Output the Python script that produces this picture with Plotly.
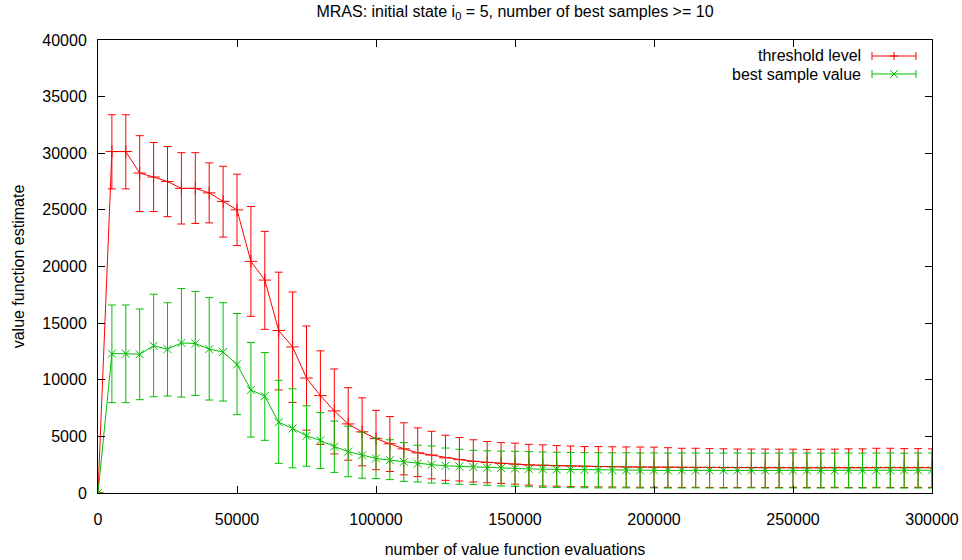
import plotly.graph_objects as go

# ---------------- data ----------------
evaluations = [0, 5000, 10000, 15000, 20000, 25000, 30000, 35000, 40000, 45000, 50000,
               55000, 60000, 65000, 70000, 75000, 80000, 85000, 90000, 95000, 100000,
               105000, 110000, 115000, 120000, 125000, 130000, 135000, 140000, 145000, 150000,
               155000, 160000, 165000, 170000, 175000, 180000, 185000, 190000, 195000, 200000,
               205000, 210000, 215000, 220000, 225000, 230000, 235000, 240000, 245000, 250000,
               255000, 260000, 265000, 270000, 275000, 280000, 285000, 290000, 295000, 300000]

threshold_mean = [0, 30150, 30150, 28250, 27900, 27500, 26900, 26900, 26500, 25750, 25000,
                  20450, 18800, 14350, 12900, 10150, 8600, 7250, 6100, 5400, 4800,
                  4350, 3900, 3550, 3350, 3100, 2950, 2800, 2700, 2620, 2550,
                  2480, 2450, 2400, 2380, 2350, 2330, 2320, 2300, 2290, 2280,
                  2270, 2260, 2250, 2250, 2240, 2240, 2230, 2230, 2230, 2230,
                  2230, 2230, 2240, 2230, 2240, 2240, 2240, 2240, 2240, 2240]
threshold_high = [0, 33400, 33400, 31550, 30950, 30600, 30050, 30050, 29150, 28850, 28150,
                  25300, 23100, 19500, 17750, 14750, 12550, 10950, 9300, 8400, 7300,
                  6750, 6200, 5750, 5450, 5100, 4900, 4700, 4550, 4450, 4400,
                  4300, 4250, 4200, 4150, 4100, 4100, 4080, 4070, 4060, 4050,
                  4000, 3950, 3950, 3920, 3900, 3880, 3880, 3880, 3870, 3870,
                  3850, 3870, 3870, 3900, 3900, 3950, 3950, 3920, 3920, 3900]
threshold_low = [0, 26850, 26850, 24850, 24850, 24400, 23750, 23800, 23850, 22600, 21850,
                 15600, 14450, 9100, 8000, 5550, 4300, 3450, 2900, 2400, 2060,
                 1900, 1600, 1450, 1250, 1120, 1060, 970, 900, 850, 780,
                 700, 620, 600, 560, 550, 540, 530, 520, 510, 500,
                 500, 490, 500, 490, 480, 490, 500, 480, 490, 500,
                 490, 480, 500, 490, 480, 500, 490, 490, 500, 490]

best_mean = [0, 12300, 12300, 12250, 13000, 12700, 13250, 13200, 12700, 12450, 11350,
             9100, 8550, 6250, 5700, 5050, 4650, 4100, 3650, 3330, 3050,
             2900, 2750, 2600, 2500, 2400, 2350, 2290, 2230, 2200, 2170,
             2130, 2100, 2080, 2060, 2050, 2030, 2020, 2010, 2000, 2000,
             1990, 2000, 1990, 2000, 2000, 1990, 2000, 2000, 1990, 2000,
             2000, 2010, 2000, 2000, 2010, 2000, 2010, 2010, 2000, 2010]
best_high = [0, 16600, 16600, 16250, 17550, 16800, 18050, 17800, 17250, 16800, 15850,
             13300, 12400, 9950, 9200, 7700, 7100, 6350, 5900, 5380, 4850,
             4700, 4450, 4220, 4150, 3970, 3860, 3770, 3720, 3700, 3680,
             3650, 3620, 3600, 3580, 3560, 3560, 3550, 3550, 3540, 3540,
             3530, 3530, 3530, 3520, 3520, 3530, 3520, 3520, 3530, 3530,
             3530, 3520, 3530, 3530, 3520, 3530, 3530, 3520, 3530, 3530]
best_low = [0, 7980, 7980, 8240, 8500, 8560, 8470, 8620, 8210, 8120, 6920,
            4940, 4650, 2620, 2220, 2360, 2170, 1820, 1440, 1300, 1270,
            1180, 1030, 970, 880, 830, 770, 740, 680, 620, 590,
            560, 500, 480, 470, 460, 450, 450, 450, 440, 450,
            440, 440, 450, 440, 440, 440, 450, 440, 440, 450,
            440, 440, 450, 440, 440, 450, 440, 440, 440, 440]

x_ticks = [0, 50000, 100000, 150000, 200000, 250000, 300000]
y_ticks = [0, 5000, 10000, 15000, 20000, 25000, 30000, 35000, 40000]

series_names = ["threshold level", "best sample value"]
RED = "#ff0000"
GREEN = "#00c000"
FONT = "Liberation Sans, Arial, Helvetica, sans-serif"

# ---------------- layout geometry ----------------
W, H = 962, 560
ML, MR, MT, MB = 98, 30, 40, 67
PW, PH = W - ML - MR, H - MT - MB


def px_to_paper_x(px):
    return (px - ML) / PW


def px_to_paper_y(py):
    return (H - MB - py) / PH


def series(name, mean, high, low, color, symbol, size):
    return go.Scatter(
        x=evaluations, y=mean, name=name, mode="lines+markers",
        line=dict(color=color, width=1),
        marker=dict(symbol=symbol, size=size, color=color,
                    line=dict(color=color, width=1)),
        error_y=dict(type="data", symmetric=False,
                     array=[h - m for h, m in zip(high, mean)],
                     arrayminus=[m - l for m, l in zip(mean, low)],
                     color=color, thickness=1, width=4),
        showlegend=False,
    )


fig = go.Figure()
fig.add_trace(series(series_names[0], threshold_mean, threshold_high, threshold_low,
                     RED, "cross-thin", 9))
fig.add_trace(series(series_names[1], best_mean, best_high, best_low,
                     GREEN, "x-thin", 8))

# ---------------- gnuplot-style key (text left, sample right) ----------------
shapes = []
annotations = []
key_rows = [(series_names[0], RED, 56, "plus"), (series_names[1], GREEN, 74, "cross")]
for name, color, ypx, mk in key_rows:
    annotations.append(dict(
        text=name, xref="paper", yref="paper",
        x=px_to_paper_x(863), y=px_to_paper_y(ypx),
        xanchor="right", yanchor="middle", showarrow=False,
        font=dict(family=FONT, size=16, color="#000000")))
    x0, x1 = 872, 916
    xc = (x0 + x1) / 2
    segs = [((x0, ypx), (x1, ypx)),
            ((x0, ypx - 4), (x0, ypx + 4)),
            ((x1, ypx - 4), (x1, ypx + 4))]
    if mk == "plus":
        segs += [((xc - 4, ypx), (xc + 4, ypx)), ((xc, ypx - 4), (xc, ypx + 4))]
    else:
        segs += [((xc - 4, ypx - 4), (xc + 4, ypx + 4)), ((xc - 4, ypx + 4), (xc + 4, ypx - 4))]
    for (ax, ay), (bx, by) in segs:
        shapes.append(dict(type="line", xref="paper", yref="paper",
                           x0=px_to_paper_x(ax), y0=px_to_paper_y(ay),
                           x1=px_to_paper_x(bx), y1=px_to_paper_y(by),
                           line=dict(color=color, width=1)))

axis_common = dict(
    showline=True, linecolor="#000000", linewidth=1, mirror="ticks",
    ticks="inside", ticklen=7, tickcolor="#000000", tickwidth=1,
    showgrid=False, zeroline=False, tickformat="d",
    tickfont=dict(family=FONT, size=16, color="#000000"),
)

fig.update_layout(
    width=W, height=H,
    margin=dict(l=ML, r=MR, t=MT, b=MB, autoexpand=False),
    paper_bgcolor="#ffffff", plot_bgcolor="#ffffff",
    font=dict(family=FONT, size=16, color="#000000"),
    title=dict(text="MRAS: initial state i<sub>0</sub> = 5, number of best samples >= 10",
               x=0.5, xref="paper", xanchor="center",
               y=1 - 11 / H, yref="container", yanchor="middle",
               font=dict(family=FONT, size=16, color="#000000")),
    xaxis=dict(range=[0, 300000], tickvals=x_ticks, ticklabelstandoff=12,
               title=dict(text="number of value function evaluations", standoff=16,
                          font=dict(family=FONT, size=16)),
               **axis_common),
    yaxis=dict(range=[0, 40000], tickvals=y_ticks, ticklabelstandoff=7,
               title=dict(text="value function estimate", standoff=13,
                          font=dict(family=FONT, size=16)),
               **axis_common),
    shapes=shapes, annotations=annotations,
    showlegend=False,
)

fig.write_html("out.html")
